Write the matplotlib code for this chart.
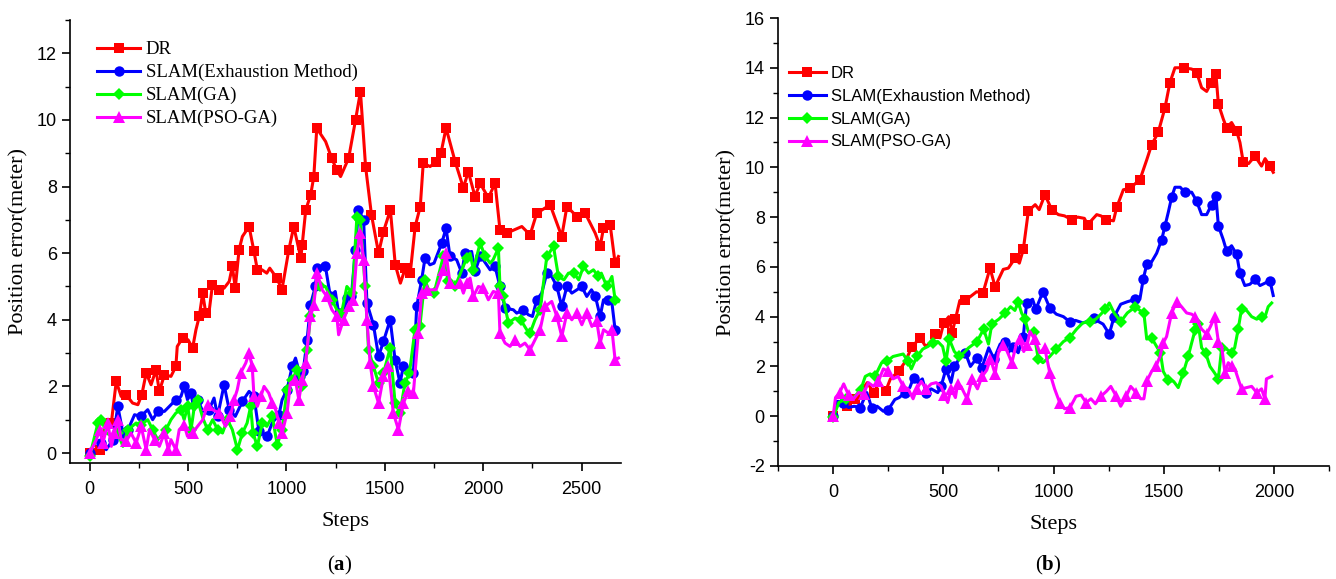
import numpy as np
import matplotlib
matplotlib.use("Agg")
import matplotlib.pyplot as plt
from matplotlib.ticker import MultipleLocator

plt.rcParams['mathtext.fontset'] = 'custom'
plt.rcParams['mathtext.rm'] = 'Liberation Serif'
plt.rcParams['mathtext.bf'] = 'Liberation Serif:bold'
plt.rcParams['axes.unicode_minus'] = False

labels = ["DR", "SLAM(Exhaustion Method)", "SLAM(GA)", "SLAM(PSO-GA)"]

# ---------------- panel (a) ----------------
a_dr_x = [0, 50, 84, 110, 135, 160, 185, 218, 245, 265, 287, 312, 337, 354, 380, 413, 438, 445, 472, 500,
          523, 540, 557, 574, 590, 607, 624, 658, 683, 709, 725, 740, 759, 776, 810, 835, 852, 876, 900, 915,
          951, 977, 1012, 1037, 1073, 1080, 1098, 1123, 1139, 1154, 1199, 1230, 1255, 1275, 1316, 1351, 1376,
          1402, 1432, 1468, 1493, 1528, 1553, 1579, 1604, 1629, 1654, 1680, 1695, 1730, 1760, 1785, 1811,
          1857, 1899, 1924, 1958, 1984, 2026, 2060, 2085, 2119, 2196, 2238, 2272, 2340, 2399, 2425, 2476,
          2518, 2569, 2594, 2611, 2645, 2670, 2687]
a_dr_y = [0, 0.1, 1.0, 0.9, 2.15, 1.7, 1.75, 1.5, 1.45, 1.75, 2.4, 2.05, 2.5, 1.85, 2.35, 2.3, 2.6, 3.2, 3.45, 3.4,
          3.15, 3.7, 4.1, 4.8, 4.2, 4.25, 5.05, 4.9, 4.95, 5.15, 5.6, 4.95, 6.1, 6.5, 6.8, 6.05, 5.5, 5.5, 5.4, 5.55,
          5.25, 4.9, 6.1, 6.8, 5.85, 6.25, 7.3, 7.75, 8.3, 9.75, 9.35, 8.85, 8.5, 8.3, 8.85, 10.0, 10.85,
          8.6, 7.15, 6.0, 6.65, 7.3, 5.65, 5.1, 5.55, 5.4, 6.8, 7.4, 8.7, 8.6, 8.75, 9.0, 9.76,
          8.75, 7.96, 8.45, 7.7, 8.1, 7.66, 8.1, 6.7, 6.6, 6.8, 6.55, 7.2, 7.45, 6.5, 7.4, 7.1,
          7.2, 6.6, 6.2, 6.75, 6.85, 5.7, 5.9]

a_ex_x = [0, 34, 60, 84, 118, 143, 169, 195, 228, 260, 295, 320, 346, 380, 405, 438, 464, 480, 497, 515, 530,
          548, 575, 607, 632, 650, 683, 709, 740, 776, 810, 835, 860, 902, 927, 962, 978, 1003, 1029, 1046, 1071,
          1085, 1105, 1122, 1147, 1156, 1198, 1223, 1248, 1265, 1285, 1307, 1330, 1350, 1366, 1392, 1409, 1442,
          1468, 1493, 1527, 1552, 1577, 1594, 1620, 1645, 1662, 1687, 1704, 1729, 1750, 1789, 1811, 1831, 1865,
          1891, 1907, 1941, 1958, 1984, 2000, 2035, 2060, 2085, 2111, 2153, 2170, 2204, 2229, 2250, 2272, 2297,
          2323, 2348, 2374, 2399, 2425, 2450, 2476, 2500, 2526, 2550, 2570, 2594, 2611, 2635, 2654, 2670, 2687]
a_ex_y = [0, 0.4, 0.3, 0.1, 0.4, 1.4, 0.6, 0.7, 1.15, 1.1, 1.3, 1.0, 1.25, 1.25, 1.4, 1.6, 1.7, 2.0, 1.6, 1.8, 1.3,
          1.6, 1.25, 1.3, 1.65, 1.1, 2.05, 1.3, 1.1, 1.55, 1.85, 1.7, 0.65, 0.5, 0.9, 1.15, 1.6, 1.9, 2.6, 2.85, 2.3,
          2.45, 3.4, 4.45, 5.0, 5.55, 5.6, 4.7, 4.85, 4.2, 4.1, 4.65, 4.7, 6.1, 7.3, 7.0, 4.5, 3.85,
          2.9, 3.35, 4.0, 2.8, 2.1, 2.6, 2.55, 2.4, 4.4, 5.2, 5.85, 5.65, 5.7, 6.3, 6.75, 5.9, 5.8,
          5.4, 6.0, 6.05, 5.45, 5.9, 5.8, 5.5, 5.6, 5.0, 4.35, 4.3, 4.2, 4.3, 4.15, 4.1, 4.6, 4.8,
          5.4, 5.3, 5.0, 4.4, 5.0, 4.8, 4.9, 5.0, 4.7, 4.9, 4.7, 4.1, 4.6, 4.6, 4.5, 3.7, 3.7]

a_ga_x = [0, 42, 60, 84, 118, 143, 169, 195, 236, 260, 295, 320, 346, 388, 413, 438, 464, 480, 498, 515, 532,
          548, 575, 599, 625, 650, 675, 700, 725, 751, 776, 800, 818, 830, 852, 877, 900, 928, 953, 978, 1003,
          1029, 1054, 1080, 1105, 1122, 1147, 1172, 1198, 1231, 1256, 1280, 1307, 1335, 1358, 1375, 1400, 1417,
          1442, 1468, 1493, 1527, 1552, 1577, 1602, 1625, 1653, 1678, 1703, 1729, 1750, 1797, 1822, 1857, 1891,
          1916, 1933, 1950, 1984, 2010, 2035, 2050, 2077, 2085, 2100, 2128, 2162, 2190, 2221, 2238, 2263, 2289,
          2323, 2357, 2382, 2410, 2433, 2460, 2485, 2509, 2535, 2560, 2585, 2600, 2628, 2654, 2670, 2687]
a_ga_y = [-0.1, 0.9, 1.0, 0.6, 0.5, 0.6, 0.2, 0.7, 0.9, 0.85, 1.0, 0.7, 0.4, 0.7, 1.0, 1.2, 1.3, 1.0, 1.4, 0.7, 1.4,
          1.6, 1.05, 0.7, 1.0, 0.7, 0.6, 1.0, 0.7, 0.1, 0.6, 0.9, 1.4, 0.6, 0.2, 0.9, 0.8, 1.1, 0.25, 0.7, 1.9,
          2.2, 2.5, 2.0, 3.1, 4.1, 4.9, 5.0, 5.0, 4.6, 4.3, 4.2, 5.0, 4.8, 7.1, 7.0, 5.0, 3.1,
          2.6, 2.1, 2.4, 3.15, 1.5, 1.2, 2.1, 2.4, 3.7, 3.8, 5.2, 4.8, 4.8, 5.9, 5.15, 5.0, 5.5,
          5.85, 6.0, 5.5, 6.3, 5.9, 5.7, 5.8, 6.15, 5.0, 4.7, 3.9, 4.05, 4.0, 3.7, 3.6, 4.0, 4.3,
          5.9, 6.2, 5.3, 5.2, 5.4, 5.4, 5.2, 5.6, 5.4, 5.5, 5.3, 5.4, 5.0, 5.3, 4.6, 4.55]

a_pso_x = [0, 34, 50, 67, 93, 110, 126, 143, 160, 185, 210, 236, 262, 287, 304, 330, 354, 380, 400, 413, 438,
           455, 480, 497, 523, 548, 575, 599, 625, 658, 690, 715, 734, 750, 767, 793, 810, 826, 835, 852, 870,
           886, 910, 928, 945, 962, 978, 1003, 1020, 1045, 1063, 1080, 1097, 1122, 1139, 1156, 1181, 1206, 1231,
           1256, 1265, 1290, 1316, 1340, 1358, 1375, 1392, 1409, 1425, 1442, 1468, 1493, 1518, 1543, 1569, 1594,
           1620, 1645, 1670, 1687, 1712, 1737, 1760, 1797, 1811, 1831, 1857, 1882, 1899, 1916, 1933, 1950, 1975,
           2000, 2026, 2051, 2077, 2085, 2111, 2136, 2162, 2187, 2212, 2238, 2263, 2289, 2314, 2348, 2374, 2399,
           2425, 2450, 2476, 2501, 2526, 2552, 2577, 2594, 2611, 2636, 2654, 2670, 2687]
a_pso_y = [0, 0.4, 0.7, 0.3, 0.9, 0.2, 0.6, 1.0, 0.4, 0.35, 0.6, 0.3, 0.8, 0.1, 0.7, 0.4, 0.2, 0.6, 0.1, 0.4, 0.1,
           0.7, 0.85, 0.5, 0.6, 0.8, 1.0, 1.45, 1.3, 1.2, 0.8, 1.1, 1.6, 1.9, 2.4, 2.7, 3.0, 2.6, 1.7, 1.4, 1.7,
           2.0, 1.8, 1.5, 1.3, 0.9, 0.6, 1.2, 2.1, 2.2, 1.6, 2.2, 2.7, 4.1, 4.45, 5.4, 4.9, 4.7, 4.3,
           4.1, 3.55, 4.0, 4.4, 4.6, 6.0, 6.6, 5.8, 4.0, 2.7, 2.0, 1.5, 2.3, 2.6, 1.2, 0.7, 1.5,
           1.85, 1.8, 3.6, 4.8, 4.9, 4.9, 4.9, 5.5, 6.0, 5.1, 4.95, 5.1, 4.8, 5.1, 5.25, 4.7, 5.0,
           4.95, 4.6, 4.85, 4.8, 3.6, 3.3, 3.2, 3.4, 3.2, 3.3, 3.1, 3.4, 3.7, 4.4, 4.55, 4.1, 3.5,
           4.2, 4.0, 4.2, 3.85, 4.2, 3.8, 3.95, 3.3, 3.7, 3.6, 3.7, 2.8, 2.85]

# ---------------- panel (b) ----------------
b_dr_x = [0, 26, 63, 100, 155, 184, 210, 238, 260, 297, 328, 358, 396, 420, 441, 464, 485, 502, 525, 540, 555,
          575, 600, 651, 680, 712, 735, 772, 795, 826, 845, 863, 886, 917, 935, 961, 992, 1022, 1050, 1082, 1110,
          1140, 1155, 1196, 1215, 1240, 1272, 1287, 1317, 1345, 1392, 1423, 1445, 1475, 1506, 1528, 1551, 1590,
          1627, 1650, 1672, 1695, 1715, 1737, 1748, 1770, 1785, 1808, 1831, 1846, 1861, 1885, 1914, 1944, 1960,
          1982, 1997]
b_dr_y = [0, 0.6, 0.4, 0.7, 1.35, 0.95, 1.35, 1.0, 1.5, 1.8, 2.2, 2.8, 3.15, 2.8, 2.95, 3.3, 3.15, 3.75, 4.0, 3.35, 3.9,
          4.65, 4.65, 5.0, 4.95, 5.95, 5.2, 5.9, 5.95, 6.35, 6.15, 6.7, 8.25, 8.5, 8.3, 8.9, 8.3, 8.1, 8.05, 7.9, 8.0,
          7.95, 7.7, 8.1, 8.05, 7.9, 7.85, 8.4, 9.1, 9.15, 9.5, 10.3, 10.9, 11.4, 12.4, 13.4, 14.0, 14.0,
          13.95, 13.8, 13.2, 13.05, 13.4, 13.75, 12.55, 11.95, 11.6, 11.8, 11.45, 11.0, 10.2, 10.15, 10.45, 10.05, 10.35,
          10.05, 9.8]

b_ex_x = [0, 18, 45, 70, 95, 123, 153, 175, 200, 228, 251, 280, 300, 325, 348, 365, 385, 405, 422, 445, 475,
          490, 512, 535, 550, 565, 575, 600, 623, 653, 675, 706, 730, 758, 780, 795, 815, 840, 863, 878, 905,
          920, 952, 983, 1013, 1045, 1073, 1100, 1133, 1150, 1185, 1205, 1225, 1253, 1275, 1305, 1335, 1372, 1392,
          1407, 1423, 1445, 1468, 1491, 1506, 1521, 1536, 1551, 1575, 1596, 1627, 1649, 1672, 1695, 1717, 1737,
          1748, 1770, 1785, 1808, 1831, 1846, 1868, 1891, 1914, 1937, 1960, 1982, 1997]
b_ex_y = [0, 0.6, 0.55, 0.35, 0.4, 0.35, 0.95, 0.35, 0.4, 0.2, 0.27, 0.67, 0.75, 0.95, 1.15, 1.55, 1.35, 1.5, 0.95, 1.1, 0.95,
          1.2, 1.9, 1.35, 2.0, 2.2, 2.45, 2.55, 2.0, 2.35, 1.95, 2.75, 2.3, 2.9, 3.0, 2.55, 2.8, 2.55, 3.2, 4.55, 4.7,
          4.3, 5.0, 4.35, 4.1, 4.0, 3.8, 3.85, 3.75, 3.8, 3.95, 3.8, 3.7, 3.3, 4.0, 4.5, 4.6, 4.7, 4.7,
          5.5, 6.1, 6.2, 6.55, 7.1, 7.65, 8.2, 8.8, 9.2, 9.2, 9.0, 9.0, 8.65, 8.1, 8.1, 8.5, 8.85,
          7.65, 7.1, 6.65, 6.85, 6.5, 5.75, 5.25, 5.3, 5.5, 5.25, 5.35, 5.45, 4.85]

b_ga_x = [0, 26, 60, 93, 125, 146, 168, 190, 220, 243, 272, 295, 318, 340, 355, 380, 407, 430, 452, 475, 497,
          512, 527, 550, 572, 593, 615, 653, 683, 705, 720, 752, 781, 805, 825, 840, 855, 870, 886, 910, 931,
          952, 983, 1013, 1045, 1073, 1105, 1133, 1165, 1192, 1215, 1235, 1253, 1275, 1305, 1335, 1372, 1392,
          1410, 1423, 1445, 1468, 1485, 1498, 1520, 1545, 1566, 1589, 1611, 1627, 1642, 1657, 1672, 1690, 1710,
          1730, 1748, 1763, 1785, 1808, 1822, 1838, 1853, 1876, 1899, 1922, 1945, 1960, 1974, 1990]
b_ga_y = [-0.05, 0.55, 0.7, 0.75, 1.05, 1.6, 1.7, 1.6, 2.15, 2.2, 2.4, 2.45, 2.5, 2.2, 1.9, 2.4, 2.7, 2.8, 2.95, 3.0, 2.8,
          2.2, 3.1, 2.6, 2.4, 2.55, 2.75, 3.0, 3.5, 2.9, 3.7, 3.9, 4.15, 4.4, 4.25, 4.6, 4.15, 3.9, 3.4, 3.4, 2.3,
          2.15, 2.4, 2.7, 3.0, 3.15, 3.5, 3.75, 3.8, 3.9, 4.1, 4.3, 4.55, 4.15, 3.8, 4.15, 4.4, 4.25,
          4.15, 3.1, 3.15, 2.8, 2.55, 1.8, 1.45, 1.4, 1.15, 1.75, 2.4, 2.95, 3.45, 3.7, 2.75, 2.55, 2.0,
          1.75, 1.5, 2.75, 2.7, 2.55, 2.75, 3.5, 4.3, 4.25, 4.0, 3.9, 4.0, 4.0, 4.4, 4.55]

b_pso_x = [0, 11, 30, 48, 70, 93, 116, 138, 160, 183, 205, 228, 250, 272, 295, 318, 340, 363, 380, 400, 422,
           445, 468, 490, 505, 520, 535, 555, 565, 580, 608, 630, 655, 676, 697, 714, 735, 750, 773, 790, 811,
           830, 848, 865, 880, 893, 915, 938, 960, 983, 1005, 1028, 1050, 1075, 1102, 1125, 1148, 1170, 1190,
           1215, 1240, 1260, 1285, 1305, 1330, 1350, 1375, 1395, 1410, 1423, 1445, 1465, 1483, 1498, 1513, 1536,
           1559, 1581, 1604, 1627, 1642, 1657, 1672, 1695, 1712, 1732, 1748, 1763, 1778, 1793, 1808, 1823, 1838,
           1853, 1876, 1899, 1922, 1944, 1959, 1966, 1990]
b_pso_y = [0, 0.75, 0.95, 1.3, 0.85, 0.7, 0.95, 0.9, 1.35, 1.2, 1.4, 1.9, 1.8, 1.5, 1.6, 1.2, 1.1, 0.7, 1.1, 1.4, 1.1,
           1.3, 1.35, 1.2, 0.85, 0.55, 1.1, 0.75, 1.3, 1.2, 0.7, 1.5, 1.1, 1.6, 1.85, 2.3, 1.7, 2.55, 2.85, 2.6, 2.15,
           2.85, 3.1, 2.6, 2.85, 3.4, 3.1, 2.55, 2.75, 1.75, 1.1, 0.55, 0.3, 0.35, 0.8, 0.85, 0.55, 0.7, 0.5,
           0.8, 1.0, 1.2, 0.8, 0.4, 0.8, 1.2, 0.95, 0.7, 0.7, 1.4, 1.8, 2.0, 2.4, 2.95, 3.2, 4.15,
           4.6, 4.4, 4.15, 4.1, 4.0, 3.75, 3.5, 3.3, 3.6, 4.0, 3.0, 2.8, 1.75, 2.15, 2.0, 1.9, 1.5,
           1.1, 1.15, 1.2, 0.95, 1.1, 0.7, 1.5, 1.6]

colors = ['#FF0000', '#0000FF', '#00FF00', '#FF00FF']
markers = ['s', 'o', 'D', '^']
msizes = [7.5, 7.5, 6.5, 8]

SERIF = 'Liberation Serif'
SANS = 'Liberation Sans'

fig = plt.figure(figsize=(13.36, 5.79), dpi=100)
axA = fig.add_axes([70/1336, 1-463/579, 551/1336, 443/579])
axB = fig.add_axes([778/1336, 1-466/579, 551/1336, 448/579])

panels = [
    (axA, [(a_dr_x, a_dr_y), (a_ex_x, a_ex_y), (a_ga_x, a_ga_y), (a_pso_x, a_pso_y)]),
    (axB, [(b_dr_x, b_dr_y), (b_ex_x, b_ex_y), (b_ga_x, b_ga_y), (b_pso_x, b_pso_y)]),
]

for ax, series in panels:
    for (xs, ys), c, m, ms, lab in zip(series, colors, markers, msizes, labels):
        ax.plot(xs, ys, color=c, lw=2.2, marker=m, markersize=ms, markevery=0.032,
                markeredgewidth=0, label=lab)
    for s in ['top', 'right']:
        ax.spines[s].set_visible(False)
    for s in ['left', 'bottom']:
        ax.spines[s].set_linewidth(1.2)
    ax.tick_params(which='major', direction='out', length=6, width=1.2, labelsize=13)
    ax.tick_params(axis='x', which='major', pad=7)
    ax.tick_params(which='minor', direction='out', length=3.5, width=1.0)
    ax.set_xlabel('Steps', fontfamily=SERIF, fontsize=16, labelpad=10)
    ax.set_ylabel('Position error(meter)', fontfamily=SERIF, fontsize=16, labelpad=6)

# panel (a) axes
axA.set_xlim(-100, 2700)
axA.set_ylim(-0.3, 13.0)
axA.xaxis.set_major_locator(MultipleLocator(500))
axA.xaxis.set_minor_locator(MultipleLocator(250))
axA.set_yticks([0, 2, 4, 6, 8, 10, 12])
axA.yaxis.set_minor_locator(MultipleLocator(1))

# panel (b) axes
axB.set_xlim(-250, 2250)
axB.set_ylim(-2, 16)
axB.set_xticks([0, 500, 1000, 1500, 2000])
axB.xaxis.set_minor_locator(MultipleLocator(250))
axB.yaxis.set_major_locator(MultipleLocator(2))
axB.yaxis.set_minor_locator(MultipleLocator(1))

for ax in (axA, axB):
    for lab in ax.get_xticklabels() + ax.get_yticklabels():
        lab.set_fontfamily(SANS)
        lab.set_fontsize(13)

axA.legend(loc='upper left', bbox_to_anchor=(0.049, 0.952), frameon=False,
           prop={'family': SERIF, 'size': 13.5}, handlelength=2.3, handletextpad=0.3,
           labelspacing=0.3, borderpad=0, borderaxespad=0, numpoints=1)
axB.legend(loc='upper left', bbox_to_anchor=(0.02, 0.893), frameon=False,
           prop={'family': SANS, 'size': 12}, handlelength=2.2, handletextpad=0.3,
           labelspacing=0.47, borderpad=0, borderaxespad=0, numpoints=1)

fig.text(340/1336, 1-565/579, r'($\mathbf{a}$)', ha='center', va='center', fontfamily=SERIF, fontsize=15)
fig.text(1048/1336, 1-565/579, r'($\mathbf{b}$)', ha='center', va='center', fontfamily=SERIF, fontsize=15)

fig.savefig('out.png', dpi=100)
